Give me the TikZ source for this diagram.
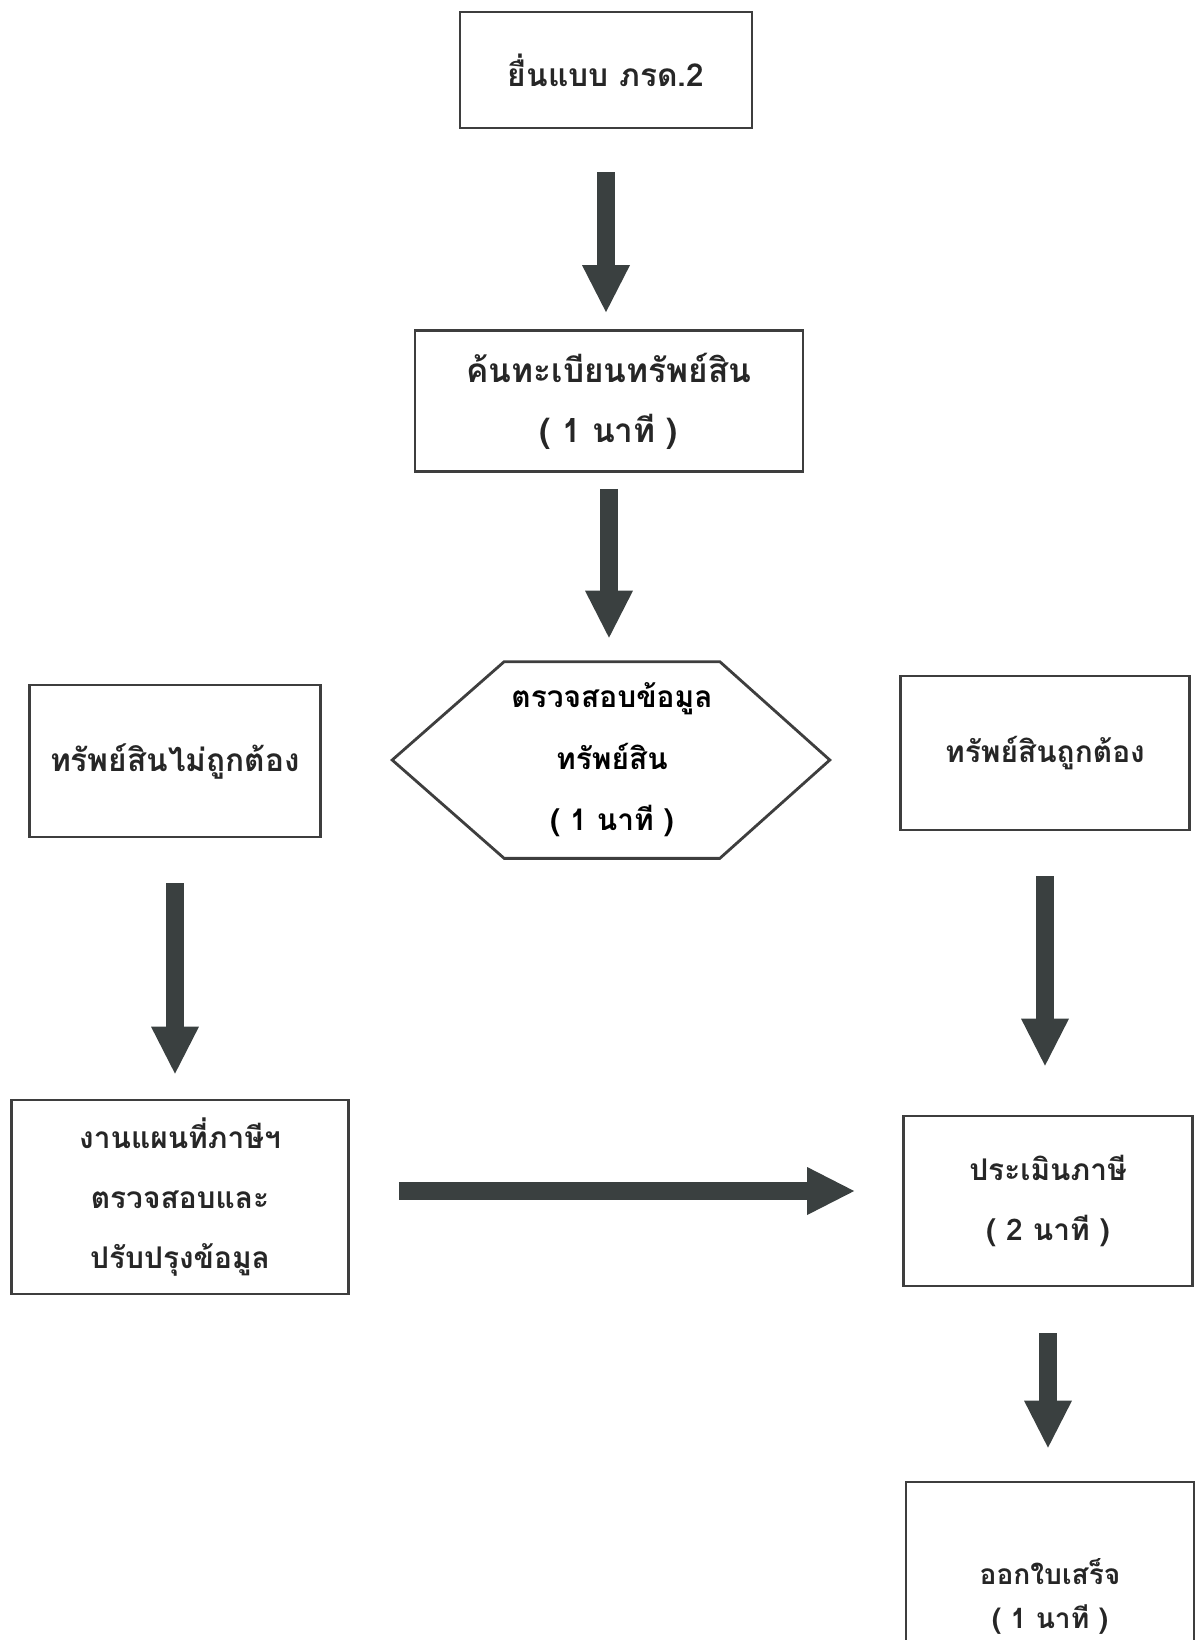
\documentclass[tikz,border=0pt]{standalone}
\usepackage{fontspec}
\newfontfamily\thaifont[Script=Thai]{Loma}
\usetikzlibrary{arrows.meta}

\definecolor{boxgray}{RGB}{62,62,62}
\definecolor{arrowgray}{RGB}{58,64,64}
\newcommand\thsize[2]{\thaifont\bfseries\fontsize{#1}{#2}\selectfont}

\tikzset{
  box/.style={draw=boxgray, line width=1.6pt, align=center, text=black!85},
  blockarrow/.style={draw=arrowgray, line width=0.36cm,
    -{Triangle[width=0.96cm,length=0.94cm,line width=0pt]}},
}

\begin{document}
\begin{tikzpicture}[x=0.02cm,y=-0.02cm]

    % white page
    \useasboundingbox (0,0) rectangle (1198,1640);

    % boxes down the middle
    \node[box, minimum width=5.84cm, minimum height=2.32cm, font=\thsize{18}{34}] (yuen) at (606,70) {ยื่นแบบ ภรด.2};
    \node[box, minimum width=7.76cm, minimum height=2.82cm, font=\thsize{19}{34}] (khon) at (609,401) {ค้นทะเบียนทรัพย์สิน\\( 1 นาที )};

    % hexagon for the check
    \node[minimum width=4.3cm, minimum height=3.92cm, align=center, font=\thsize{17}{35}] (check) at (612,760) {ตรวจสอบข้อมูล\\ทรัพย์สิน\\( 1 นาที )};
    \draw[boxgray, line width=1.6pt] (check.north west) -- (check.north east) -- ([xshift=2.2cm]check.east)
      -- (check.south east) -- (check.south west) -- ([xshift=-2.24cm]check.west) -- cycle;

    % the two outcomes
    \node[box, minimum width=5.82cm, minimum height=3.04cm, font=\thsize{18}{34}] (wrong) at (175,761) {ทรัพย์สินไม่ถูกต้อง};
    \node[box, minimum width=5.78cm, minimum height=3.08cm, font=\thsize{17}{34}] (right) at (1045,753) {ทรัพย์สินถูกต้อง};

    % lower boxes
    \node[box, minimum width=6.74cm, minimum height=3.88cm, font=\thsize{17}{34}] (map) at (180,1197) {งานแผนที่ภาษีฯ\\ตรวจสอบและ\\ปรับปรุงข้อมูล};
    \node[box, minimum width=5.78cm, minimum height=3.4cm, font=\thsize{17}{34}] (assess) at (1048,1201) {ประเมินภาษี\\( 2 นาที )};
    \node[box, minimum width=5.76cm, minimum height=4.56cm, font=\thsize{16}{25}] (receipt) at (1050,1596) {ออกใบเสร็จ\\( 1 นาที )};

    % downward arrows
    \foreach \a/\b/\s/\e in {yuen/khon/0.86/0.34, khon/check/0.32/0.48, wrong/map/0.9/0.5,
                             right/assess/0.9/0.98, assess/receipt/0.92/0.66} {
      \draw[blockarrow, shorten <=\s cm, shorten >=\e cm] (\a.south) -- (\a.south |- \b.north);
    }

    % arrow across
    \draw[blockarrow, shorten <=0.98cm, shorten >=0.96cm] ([yshift=0.12cm]map.east) -- ([yshift=0.12cm]map.east -| assess.west);

\end{tikzpicture}
\end{document}
